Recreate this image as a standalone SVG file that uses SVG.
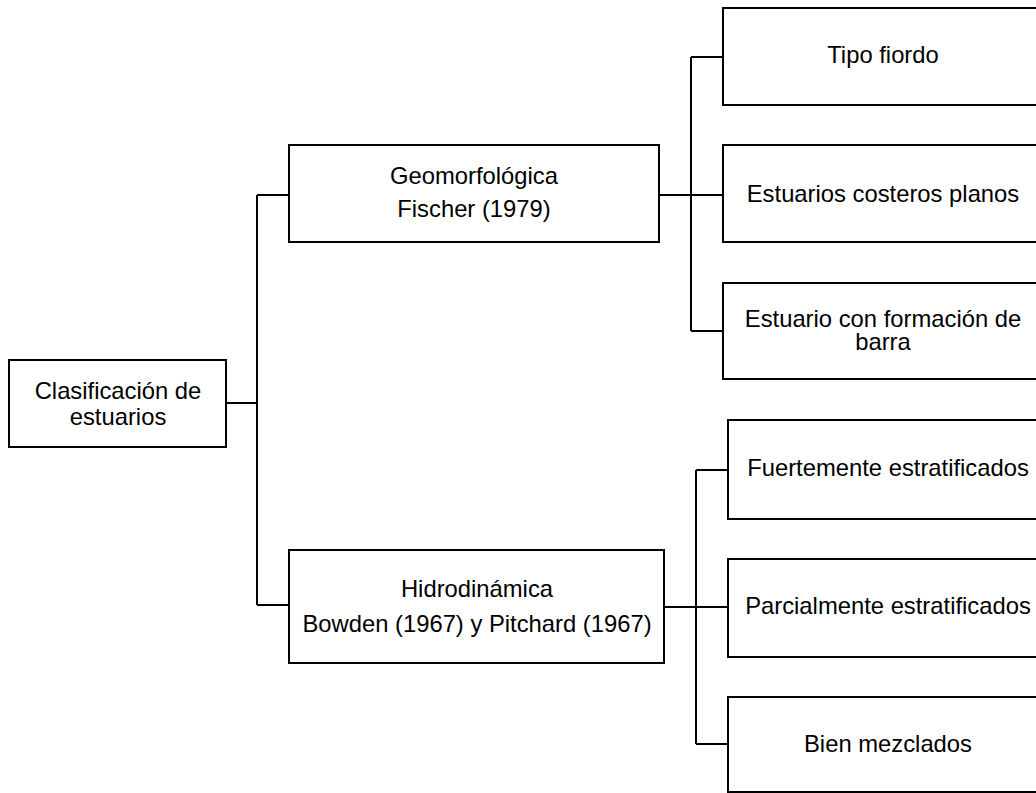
<svg xmlns="http://www.w3.org/2000/svg" width="1036" height="793" viewBox="0 0 1036 793">
<style>
.box{fill:#fff;stroke:#000;stroke-width:2}
.t{font-family:"Liberation Sans",Arial,sans-serif;font-size:23.8px;fill:#000;text-anchor:middle}
.c{fill:none;stroke:#000;stroke-width:2}
</style>
<rect width="1036" height="793" fill="#fff"/>
<g id="connectors">
<path class="c" d="M226 403H257M257 195V605M257 195H289M257 605H289"/>
<path class="c" d="M659 195H723M691 57V331M691 57H723M691 331H723"/>
<path class="c" d="M664 607H728M696 470V744M696 470H728M696 744H728"/>
</g>
<g id="root">
<rect class="box" x="9" y="360" width="217" height="87"/>
<text class="t" x="118" y="399">Clasificación de</text>
<text class="t" x="118" y="425">estuarios</text>
</g>
<g id="geo">
<rect class="box" x="289" y="145" width="370" height="97"/>
<text class="t" x="474" y="184">Geomorfológica</text>
<text class="t" x="474" y="217">Fischer (1979)</text>
</g>
<g id="hidro">
<rect class="box" x="289" y="550" width="375" height="113"/>
<text class="t" x="477" y="597">Hidrodinámica</text>
<text class="t" x="477" y="632">Bowden (1967) y Pitchard (1967)</text>
</g>
<g id="fiordo">
<rect class="box" x="723" y="8" width="330" height="97"/>
<text class="t" x="883" y="63">Tipo fiordo</text>
</g>
<g id="costeros">
<rect class="box" x="723" y="145" width="330" height="97"/>
<text class="t" x="883" y="202">Estuarios costeros planos</text>
</g>
<g id="barra">
<rect class="box" x="723" y="283" width="330" height="96"/>
<text class="t" x="883" y="327">Estuario con formación de</text>
<text class="t" x="883" y="350">barra</text>
</g>
<g id="fuerte">
<rect class="box" x="728" y="420" width="330" height="99"/>
<text class="t" x="888" y="476">Fuertemente estratificados</text>
</g>
<g id="parcial">
<rect class="box" x="728" y="559" width="330" height="98"/>
<text class="t" x="888" y="614">Parcialmente estratificados</text>
</g>
<g id="bien">
<rect class="box" x="728" y="697" width="330" height="95"/>
<text class="t" x="888" y="752">Bien mezclados</text>
</g>
</svg>
